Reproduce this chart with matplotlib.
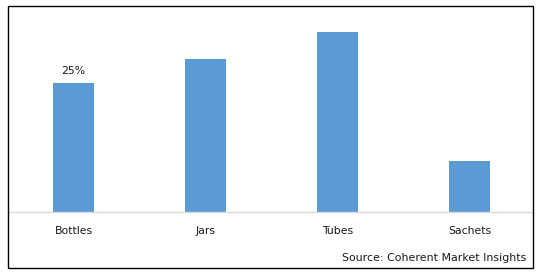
import matplotlib
matplotlib.use("Agg")
import matplotlib.pyplot as plt
from matplotlib.patches import Rectangle

categories = ["Bottles", "Jars", "Tubes", "Sachets"]
values = [25.0, 29.8, 34.9, 9.9]
labels = ["25%", "", "", ""]
source = "Source: Coherent Market Insights"

W, H = 538, 272
fig = plt.figure(figsize=(W / 100, H / 100), dpi=100)
fig.patch.set_facecolor("white")

# outer border
fig.patches.append(Rectangle((8 / W, 1 - 268 / H), (533 - 8) / W, (268 - 6) / H,
                             transform=fig.transFigure, fill=False,
                             edgecolor="black", linewidth=1.0))

ax_left, ax_right = 7.5, 533
slot = 132.0
ax_top, ax_bottom = 6, 212
ax = fig.add_axes([ax_left / W, 1 - ax_bottom / H, (ax_right - ax_left) / W,
                   (ax_bottom - ax_top) / H])
ax.set_facecolor("none")
x = range(len(categories))
bars = ax.bar(x, values, width=0.31, color="#5B9BD5", zorder=2)
ax.set_xlim(-0.5, -0.5 + (ax_right - ax_left) / slot)
ax.set_ylim(0, 40)
for s in ["top", "right", "left"]:
    ax.spines[s].set_visible(False)
ax.spines["bottom"].set_color("#d9d9d9")
ax.spines["bottom"].set_linewidth(1.0)
ax.set_yticks([])
ax.set_xticks(list(x))
ax.set_xticklabels(categories, fontsize=7.8, color="#1a1a1a")
ax.tick_params(axis="x", length=0, pad=10)

for xi, v, lab in zip(x, values, labels):
    if lab:
        ax.annotate(lab, (xi, v), xytext=(0, 5.5), textcoords="offset points",
                    ha="center", va="bottom", fontsize=7.8, color="#1a1a1a")

fig.text(526 / W, 1 - 258 / H, source, ha="right", va="center",
         fontsize=7.9, color="#1a1a1a")

fig.savefig("out.png", dpi=100, facecolor="white")
